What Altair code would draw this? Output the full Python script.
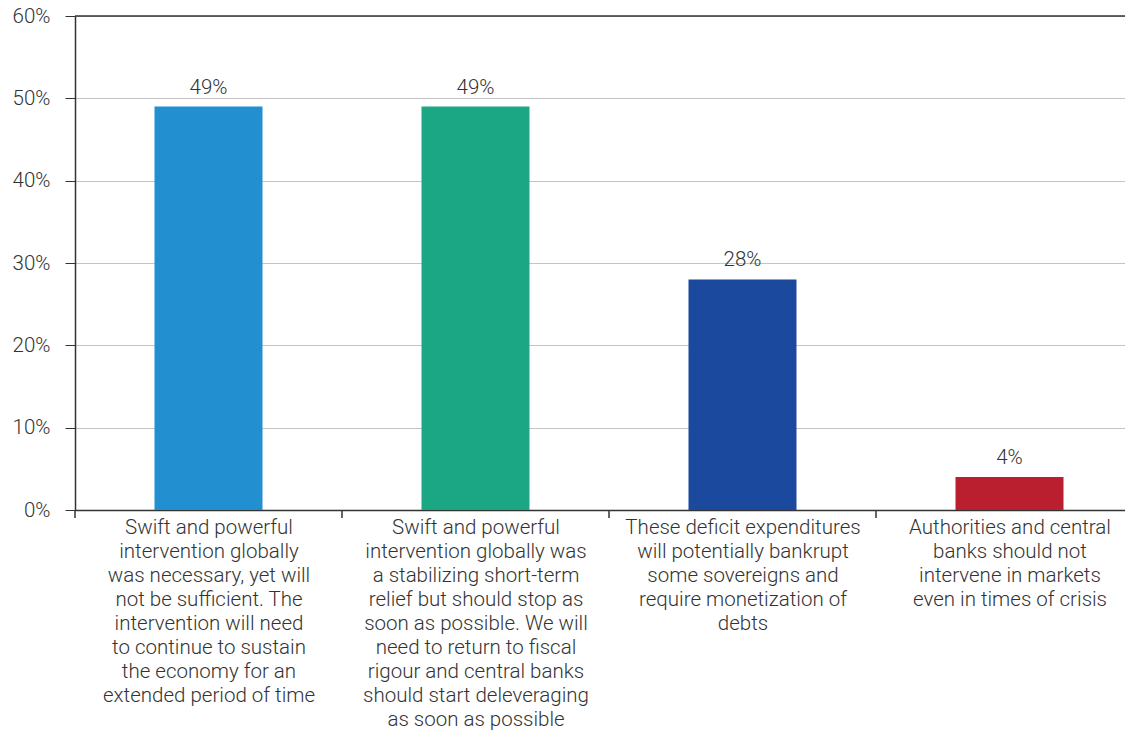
import altair as alt
import pandas as pd
import json

categories = [
    "Swift and powerful|intervention globally|was necessary, yet will|not be sufficient. The|intervention will need|to continue to sustain|the economy for an|extended period of time",
    "Swift and powerful|intervention globally was|a stabilizing short-term|relief but should stop as|soon as possible. We will|need to return to fiscal|rigour and central banks|should start deleveraging|as soon as possible",
    "These deficit expenditures|will potentially bankrupt|some sovereigns and|require monetization of|debts",
    "Authorities and central|banks should not|intervene in markets|even in times of crisis",
]
values = [0.49, 0.49, 0.28, 0.04]
colors = ["#218FD0", "#1BA783", "#1A499D", "#B91F2E"]
positions = [0, 1, 2, 3]
boundaries = [-0.5, 0.5, 1.5, 2.5]

df = pd.DataFrame({"idx": positions, "value": values, "color": colors})
bdf = pd.DataFrame({"b": boundaries})

FONT = "Roboto"
DARK = "#333333"

x_scale = alt.Scale(domain=[-0.5, 3.4326], nice=False, zero=False, padding=0)
label_expr = "split(" + json.dumps(categories) + "[datum.value], '|')"

x_enc = alt.X(
    "idx:Q",
    title=None,
    scale=x_scale,
    axis=alt.Axis(
        values=positions,
        labelExpr=label_expr,
        labelAngle=0,
        labelFont=FONT,
        labelFontSize=20.5,
        labelFontWeight=300,
        labelLineHeight=24,
        labelColor=DARK,
        labelPadding=7,
        labelBaseline="top",
        labelAlign="center",
        labelFlush=False,
        labelOverlap=False,
        labelBound=False,
        ticks=False,
        domainColor=DARK,
        domainWidth=1.5,
        grid=False,
        labelLimit=400,
    ),
)

y_enc = alt.Y(
    "value:Q",
    title=None,
    scale=alt.Scale(domain=[0, 0.6], nice=False),
    axis=alt.Axis(
        values=[0, 0.1, 0.2, 0.3, 0.4, 0.5, 0.6],
        format=".0%",
        labelFont=FONT,
        labelFontSize=20.5,
        labelFontWeight=300,
        labelColor=DARK,
        labelPadding=15,
        tickSize=10,
        tickColor=DARK,
        domainColor=DARK,
        domainWidth=1.5,
        gridColor="#C4C4C4",
        gridWidth=1,
    ),
)

bars = alt.Chart(df).mark_bar(width=108).encode(
    x=x_enc,
    y=y_enc,
    color=alt.Color("color:N", scale=None, legend=None),
)

labels = alt.Chart(df).mark_text(
    dy=-9, font=FONT, fontSize=20.5, fontWeight=300, color=DARK, baseline="bottom"
).encode(
    x=alt.X("idx:Q", scale=x_scale, title=None),
    y=alt.Y("value:Q"),
    text=alt.Text("value:Q", format=".0%"),
)

ticks = alt.Chart(bdf).mark_rule(color=DARK, strokeWidth=1.5).encode(
    x=alt.X("b:Q", scale=x_scale, title=None),
    y=alt.value(494),
    y2=alt.value(502),
)

top_rule = alt.Chart(pd.DataFrame({"v": [0.6]})).mark_rule(
    color=DARK, strokeWidth=1.5
).encode(y=alt.Y("v:Q"))

chart = (
    alt.layer(bars, labels, ticks, top_rule)
    .properties(
        width=1050,
        height=494,
        autosize=alt.AutoSizeParams(type="none"),
        padding={"left": 67, "top": 8, "right": 0, "bottom": 226},
    )
    .configure_view(stroke=None)
)

chart.save("out.html", embed_options={"renderer": "svg", "actions": False})
